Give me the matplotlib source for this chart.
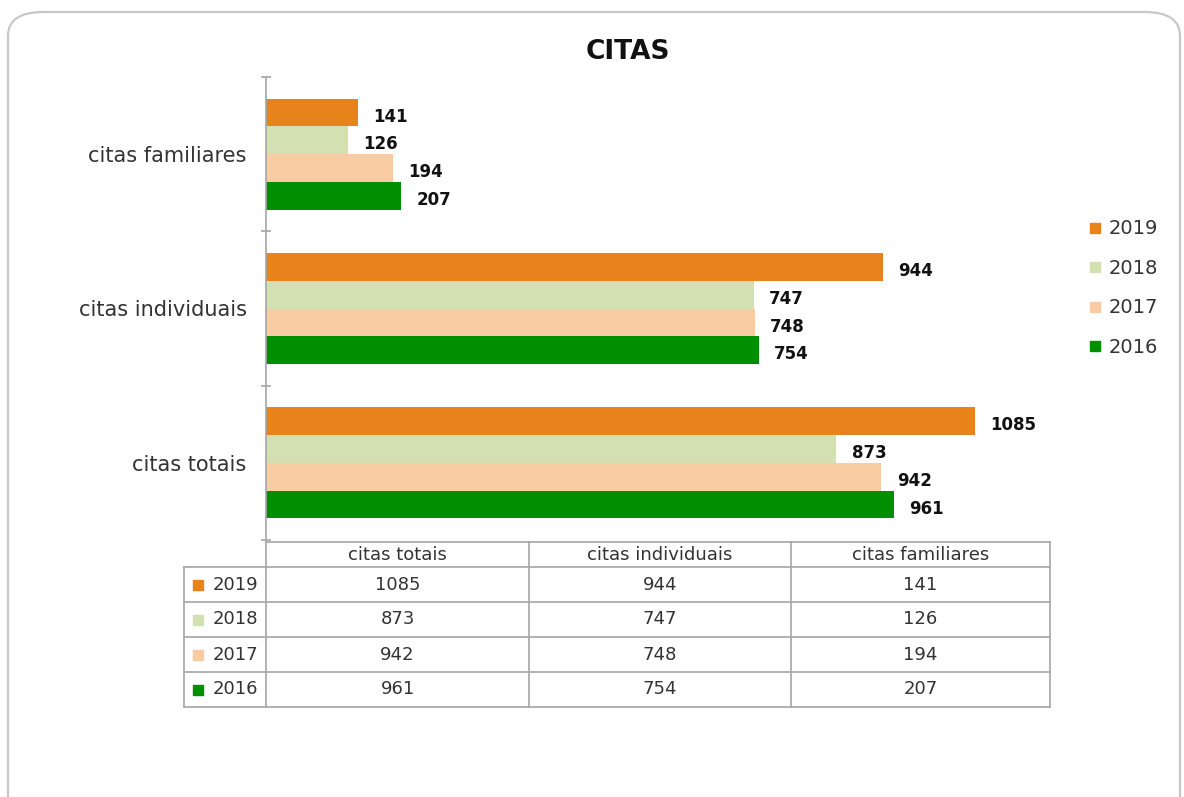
import matplotlib
matplotlib.use("Agg")
import matplotlib.pyplot as plt
from matplotlib.patches import FancyBboxPatch
from matplotlib.lines import Line2D

# data
categories = ["citas totais", "citas individuais", "citas familiares"]
years = ["2019", "2018", "2017", "2016"]
values_2019 = [1085, 944, 141]
values_2018 = [873, 747, 126]
values_2017 = [942, 748, 194]
values_2016 = [961, 754, 207]
series = [values_2019, values_2018, values_2017, values_2016]
colors = ["#E8821A", "#D2E0B2", "#F9CBA3", "#008F00"]

W, H = 1184, 797
fig = plt.figure(figsize=(W / 100, H / 100), dpi=100)

# rounded frame
frame = FancyBboxPatch((8 / W, -0.05), 1172 / W, 1 - 12 / H + 0.05,
                       boxstyle="round,pad=0,rounding_size=0.03",
                       transform=fig.transFigure, facecolor="none",
                       edgecolor="#C8C8C8", linewidth=1.6, zorder=-1)
fig.patches.append(frame)

ax = fig.add_axes([266 / W, 1 - 540 / H, 784 / W, 463 / H])
ax.set_facecolor("none")

bar_h = 0.18
offsets = [0.27, 0.09, -0.09, -0.27]
centers = [i + 0.5 for i in range(len(categories))]

for vals, off, col, yr in zip(series, offsets, colors, years):
    ypos = [c + off for c in centers]
    ax.barh(ypos, vals, height=bar_h, color=col, label=yr, zorder=2)
    for y, v in zip(ypos, vals):
        ax.annotate(str(v), (v, y), xytext=(11, -3), textcoords="offset points",
                    ha="left", va="center", fontsize=12, fontweight="bold",
                    color="#111111")

ax.set_xlim(0, 1200)
ax.set_ylim(0, 3)
ax.set_xticks([])
for s in ["top", "right", "bottom"]:
    ax.spines[s].set_visible(False)
ax.spines["left"].set_color("#A6A6A6")
ax.spines["left"].set_linewidth(1.2)
ax.set_yticks(centers)
ax.set_yticklabels(categories, fontsize=15, color="#333333")
ax.tick_params(axis="y", which="major", length=0, pad=14)
ax.set_yticks([0, 1, 2, 3], minor=True)
ax.tick_params(axis="y", which="minor", length=7, direction="inout",
               color="#A6A6A6", width=1.2)

fig.text(628 / W, 1 - 52 / H, "CITAS", fontsize=19, fontweight="bold",
         color="#111111", ha="center", va="center")

# legend
handles = [Line2D([], [], marker="s", linestyle="none", markersize=7,
                  markerfacecolor=c, markeredgecolor=c) for c in colors]
fig.legend(handles, years, loc="upper left",
           bbox_to_anchor=(1070 / W, 1 - 202 / H), frameon=False,
           fontsize=14, labelspacing=1.05, handlelength=0.8,
           handletextpad=0.3, labelcolor="#333333")

# data table below the axis, drawn in pixel-based axes fractions
ax_l, ax_b, ax_w, ax_h = 266, 540, 784, 463
def fx(px):
    return (px - ax_l) / ax_w
def fy(py):
    return (ax_b - py) / ax_h

col_edges = [184, 266, 529, 791, 1050]
header_top, header_bot = 542, 567
row_h = 35
n_rows = len(years)
row_edges = [header_bot + row_h * i for i in range(n_rows + 1)]
edge = "#A6A6A6"
line_kw = dict(color=edge, linewidth=1.2, transform=ax.transAxes,
               clip_on=False)

# horizontal lines
ax.plot([fx(col_edges[1]), fx(col_edges[-1])], [fy(header_top)] * 2, **line_kw)
for ry in row_edges:
    ax.plot([fx(col_edges[0]), fx(col_edges[-1])], [fy(ry)] * 2, **line_kw)
# vertical lines
ax.plot([fx(col_edges[0])] * 2, [fy(row_edges[0]), fy(row_edges[-1])], **line_kw)
for cx in col_edges[1:]:
    ax.plot([fx(cx)] * 2, [fy(header_top), fy(row_edges[-1])], **line_kw)

txt_kw = dict(transform=ax.transAxes, ha="center", va="center",
              fontsize=13, color="#333333", clip_on=False)
for j, name in enumerate(categories):
    ax.text(fx((col_edges[j + 1] + col_edges[j + 2]) / 2),
            fy((header_top + header_bot) / 2 + 1), name, **txt_kw)
for i, (yr, vals, col) in enumerate(zip(years, series, colors)):
    yc = fy(row_edges[i] + row_h / 2)
    ax.plot([fx(198)], [yc], marker="s", markersize=7, color=col,
            transform=ax.transAxes, clip_on=False)
    ax.text(fx(258), yc, yr, **{**txt_kw, "ha": "right"})
    for j, v in enumerate(vals):
        ax.text(fx((col_edges[j + 1] + col_edges[j + 2]) / 2), yc, str(v),
                **txt_kw)

fig.savefig("out.png", dpi=100)
